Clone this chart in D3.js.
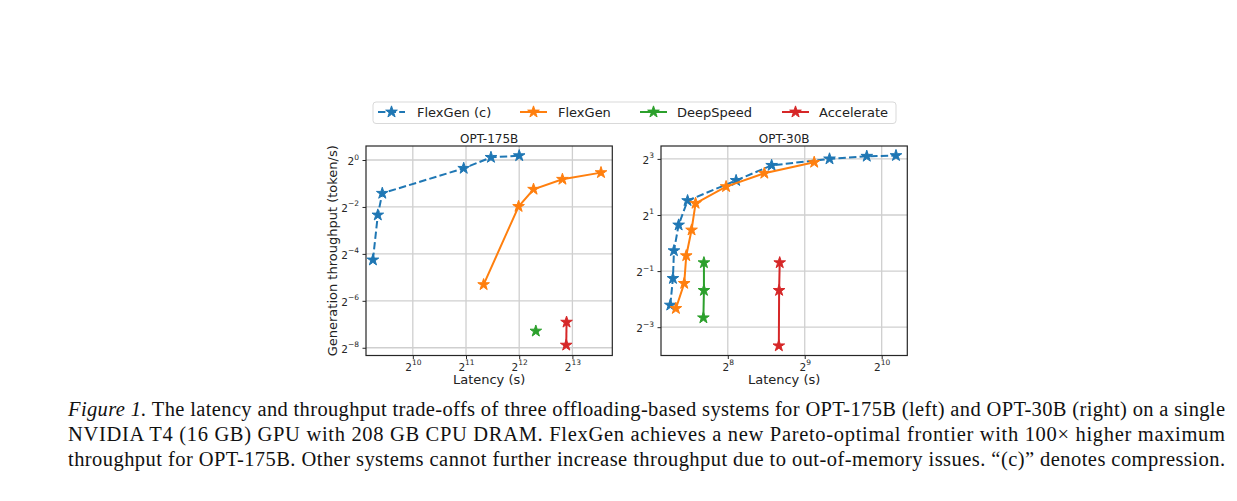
<!DOCTYPE html>
<html><head><meta charset="utf-8">
<script src="https://cdn.jsdelivr.net/npm/d3@7/dist/d3.min.js"></script>
<style>body{margin:0;background:#fff}svg{display:block}</style>
</head><body>
<svg id="chart" width="1237" height="501"></svg>
<script>
// ---------------- data ----------------
const seriesNames = ["FlexGen (c)", "FlexGen", "DeepSpeed", "Accelerate"];
const seriesColors = ["#1f77b4", "#ff7f0e", "#2ca02c", "#d62728"];

// OPT-175B  (latency in s, generation throughput in token/s)
const opt175FlexGenCLatency    = [609, 649, 688, 1987, 2835, 4096];
const opt175FlexGenCThroughput = [0.0522, 0.197, 0.374, 0.782, 1.081, 1.136];
const opt175FlexGenLatency     = [2576, 4062, 4936, 7193, 11891];
const opt175FlexGenThroughput  = [0.0252, 0.2535, 0.4216, 0.566, 0.689];
const opt175DeepSpeedLatency    = [5086];
const opt175DeepSpeedThroughput = [0.00639];
const opt175AccelerateLatency    = [7591, 7560];
const opt175AccelerateThroughput = [0.00832, 0.00422];

// OPT-30B
const opt30FlexGenCLatency    = [152.5, 156.2, 157.6, 164.4, 178.2, 275.9, 380, 640, 895.3, 1165];
const opt30FlexGenCThroughput = [0.2156, 0.4169, 0.827, 1.5615, 2.852, 4.691, 6.82, 8.0, 8.544, 8.688];
const opt30FlexGenLatency     = [160.4, 172.9, 176.1, 184.7, 191.5, 252.1, 355.8, 557.6];
const opt30FlexGenThroughput  = [0.1984, 0.3686, 0.7311, 1.3794, 2.670, 4.033, 5.61, 7.36];
const opt30DeepSpeedLatency    = [206.5, 206.5, 205.5];
const opt30DeepSpeedThroughput = [0.6148, 0.31, 0.1575];
const opt30AccelerateLatency    = [408.7, 406.5, 405.5];
const opt30AccelerateThroughput = [0.6148, 0.31, 0.0788];

// tick labels (powers of two)
const opt175XTickExps = [10, 11, 12, 13];
const opt175YTickExps = [0, -2, -4, -6, -8];
const opt30XTickExps  = [8, 9, 10];
const opt30YTickExps  = [3, 1, -1, -3];

const panelTitles = ["OPT-175B", "OPT-30B"];
const xLabel = "Latency (s)";
const yLabel = "Generation throughput (token/s)";
const captionLines = [
  ["Figure 1.", " The latency and throughput trade-offs of three offloading-based systems for OPT-175B (left) and OPT-30B (right) on a single"],
  ["", "NVIDIA T4 (16 GB) GPU with 208 GB CPU DRAM. FlexGen achieves a new Pareto-optimal frontier with 100\u00d7 higher maximum"],
  ["", "throughput for OPT-175B. Other systems cannot further increase throughput due to out-of-memory issues. \u201c(c)\u201d denotes compression."]
];

// ---------------- layout ----------------
const svg = d3.select("#chart");
const FONT = "DejaVu Sans, sans-serif";
const zip = (a, b) => a.map((v, i) => [v, b[i]]);

const panels = [
  {
    title: panelTitles[0], left: 366, right: 612.3, top: 146, bottom: 355.5,
    xDomain: [Math.pow(2, 9.12), Math.pow(2, 13.75)],
    yDomain: [Math.pow(2, -8.33), Math.pow(2, 0.597)],
    xTicks: opt175XTickExps, yTicks: opt175YTickExps,
    series: [
      zip(opt175FlexGenCLatency, opt175FlexGenCThroughput),
      zip(opt175FlexGenLatency, opt175FlexGenThroughput),
      zip(opt175DeepSpeedLatency, opt175DeepSpeedThroughput),
      zip(opt175AccelerateLatency, opt175AccelerateThroughput)
    ],
    showYLabel: true
  },
  {
    title: panelTitles[1], left: 661, right: 907.3, top: 146, bottom: 355.5,
    xDomain: [Math.pow(2, 7.132), Math.pow(2, 10.333)],
    yDomain: [Math.pow(2, -4.01), Math.pow(2, 3.46)],
    xTicks: opt30XTickExps, yTicks: opt30YTickExps,
    series: [
      zip(opt30FlexGenCLatency, opt30FlexGenCThroughput),
      zip(opt30FlexGenLatency, opt30FlexGenThroughput),
      zip(opt30DeepSpeedLatency, opt30DeepSpeedThroughput),
      zip(opt30AccelerateLatency, opt30AccelerateThroughput)
    ],
    showYLabel: false
  }
];

const GRID = "#cfcfcf";
const AXIS = "#262626";
const star = d3.symbol().type(d3.symbolStar).size(42);

function supLabel(sel, exp) {
  sel.text(null);
  sel.append("tspan").text("2");
  sel.append("tspan").attr("dy", -5.5).attr("font-size", 7.5)
    .text(String(exp).replace("-", "\u2212"));
}

panels.forEach(p => {
  const x = d3.scaleLog().base(2).domain(p.xDomain).range([p.left, p.right]);
  const y = d3.scaleLog().base(2).domain(p.yDomain).range([p.bottom, p.top]);
  const g = svg.append("g");

  // grid
  g.append("g").selectAll("line").data(p.xTicks).join("line")
    .attr("x1", d => x(Math.pow(2, d))).attr("x2", d => x(Math.pow(2, d)))
    .attr("y1", p.top).attr("y2", p.bottom)
    .attr("stroke", GRID).attr("stroke-width", 1.3);
  g.append("g").selectAll("line").data(p.yTicks).join("line")
    .attr("y1", d => y(Math.pow(2, d))).attr("y2", d => y(Math.pow(2, d)))
    .attr("x1", p.left).attr("x2", p.right)
    .attr("stroke", GRID).attr("stroke-width", 1.3);

  // axes
  const xa = g.append("g").attr("transform", `translate(0,${p.bottom})`)
    .call(d3.axisBottom(x).tickValues(p.xTicks.map(e => Math.pow(2, e)))
      .tickSize(3.5).tickPadding(3.5).tickSizeOuter(0));
  xa.select(".domain").remove();
  xa.selectAll(".tick line").attr("stroke", AXIS).attr("stroke-width", 1);
  xa.selectAll(".tick text").attr("font-family", FONT).attr("font-size", 10.5)
    .attr("fill", "#262626").attr("y", 15).attr("dy", null)
    .each(function(d) { supLabel(d3.select(this), Math.round(Math.log2(d))); });

  const ya = g.append("g").attr("transform", `translate(${p.left},0)`)
    .call(d3.axisLeft(y).tickValues(p.yTicks.map(e => Math.pow(2, e)))
      .tickSize(3.5).tickPadding(3.5).tickSizeOuter(0));
  ya.select(".domain").remove();
  ya.selectAll(".tick line").attr("stroke", AXIS).attr("stroke-width", 1);
  ya.selectAll(".tick text").attr("font-family", FONT).attr("font-size", 10.5)
    .attr("fill", "#262626").attr("x", -7).attr("dy", 4.5)
    .each(function(d) { supLabel(d3.select(this), Math.round(Math.log2(d))); });

  // series
  const line = d3.line().x(d => x(d[0])).y(d => y(d[1]));
  p.series.forEach((pts, i) => {
    g.append("path").datum(pts).attr("d", line)
      .attr("fill", "none").attr("stroke", seriesColors[i]).attr("stroke-width", 2)
      .attr("stroke-dasharray", i === 0 ? "7.4,3.2" : null);
    g.append("g").selectAll("path").data(pts).join("path")
      .attr("d", star)
      .attr("transform", d => `translate(${x(d[0])},${y(d[1])})`)
      .attr("fill", seriesColors[i]).attr("stroke", seriesColors[i]).attr("stroke-width", 1);
  });

  // frame
  g.append("rect").attr("x", p.left).attr("y", p.top)
    .attr("width", p.right - p.left).attr("height", p.bottom - p.top)
    .attr("fill", "none").attr("stroke", AXIS).attr("stroke-width", 1.2);

  // title & labels
  g.append("text").attr("x", (p.left + p.right) / 2).attr("y", 142.5)
    .attr("text-anchor", "middle").attr("font-family", FONT).attr("font-size", 12)
    .attr("fill", "#222").text(p.title);
  g.append("text").attr("x", (p.left + p.right) / 2).attr("y", 384)
    .attr("text-anchor", "middle").attr("font-family", FONT).attr("font-size", 13)
    .attr("fill", "#222").text(xLabel);
  if (p.showYLabel) {
    g.append("text")
      .attr("transform", `translate(337,${(p.top + p.bottom) / 2}) rotate(-90)`)
      .attr("text-anchor", "middle").attr("font-family", FONT).attr("font-size", 13)
      .attr("fill", "#222").text(yLabel);
  }
});

// legend
const lg = svg.append("g");
lg.append("rect").attr("x", 373).attr("y", 102).attr("width", 523).attr("height", 21.5)
  .attr("rx", 3).attr("fill", "#fff").attr("stroke", "#d9d9d9").attr("stroke-width", 1);
const legendHandleX = [378, 520, 640, 782];
const legendTextX = [417, 558, 677, 819];
seriesNames.forEach((name, i) => {
  const hx = legendHandleX[i], hy = 112;
  lg.append("line").attr("x1", hx).attr("x2", hx + 27).attr("y1", hy).attr("y2", hy)
    .attr("stroke", seriesColors[i]).attr("stroke-width", 2)
    .attr("stroke-dasharray", i === 0 ? "7.4,3.2" : null);
  lg.append("path").attr("d", star).attr("transform", `translate(${hx + 13.5},${hy})`)
    .attr("fill", seriesColors[i]).attr("stroke", seriesColors[i]).attr("stroke-width", 1);
  lg.append("text").attr("x", legendTextX[i]).attr("y", 116.5)
    .attr("font-family", FONT).attr("font-size", 13).attr("fill", "#222").text(name);
});

// caption
const capX = 68, capRight = 1225, capBase = [416, 441, 466];
captionLines.forEach((parts, i) => {
  const t = svg.append("text").attr("x", capX).attr("y", capBase[i])
    .attr("font-family", "Liberation Serif, Times New Roman, serif")
    .attr("font-size", 20.5).attr("fill", "#111");
  if (parts[0]) t.append("tspan").attr("font-style", "italic").text(parts[0]);
  t.append("tspan").text(parts[1]);
  t.attr("textLength", capRight - capX).attr("lengthAdjust", "spacing");
});
</script>
</body></html>
